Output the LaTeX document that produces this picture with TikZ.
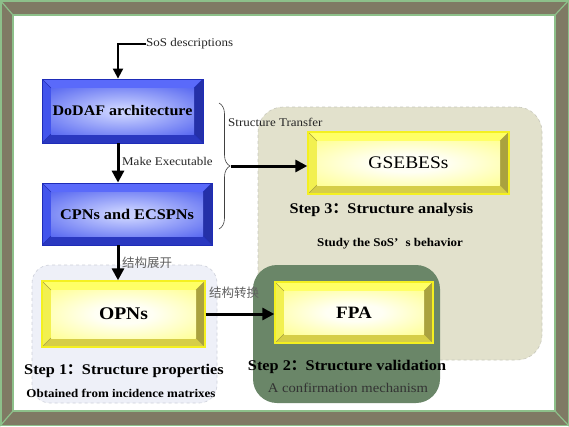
\documentclass[tikz,border=0pt]{standalone}
\usepackage{fontspec}
\setmainfont{Liberation Serif}[FakeStretch=1.1]
\newfontfamily\cjk{Noto Sans CJK SC}
\usetikzlibrary{arrows.meta,decorations.pathreplacing,calc}
\definecolor{frameol}{HTML}{7F7A64}
\definecolor{framegr}{HTML}{8DC08A}
\definecolor{blueline}{HTML}{1E2CB8}
\definecolor{bluetop}{HTML}{5A6AFA}
\definecolor{blueleft}{HTML}{4254EC}
\definecolor{blueright}{HTML}{2430A8}
\definecolor{bluebot}{HTML}{2A38C0}
\definecolor{bluein}{HTML}{C8D0FF}
\definecolor{blueout}{HTML}{4254EE}
\definecolor{yelline}{HTML}{F4F020}
\definecolor{yeltop}{HTML}{FFFF66}
\definecolor{yelleft}{HTML}{F2F050}
\definecolor{yelright}{HTML}{AAA23E}
\definecolor{yelbot}{HTML}{D6CE48}
\definecolor{yelin}{HTML}{FFFFF4}
\definecolor{yelout}{HTML}{FFFF70}
\definecolor{reg1}{HTML}{EEF0F8}
\definecolor{reg1b}{HTML}{CDD0DA}
\definecolor{reg2}{HTML}{6A8668}
\definecolor{reg3}{HTML}{E2E1CC}
\definecolor{reg3b}{HTML}{C8C8BC}
\pgfdeclareradialshading{bluesh}{\pgfpoint{0bp}{0bp}}{color(0bp)=(bluein); color(4bp)=(bluein); color(42bp)=(blueout); color(50bp)=(blueout)}
\pgfdeclareradialshading{yelsh}{\pgfpoint{0bp}{0bp}}{color(0bp)=(yelin); color(10bp)=(yelin); color(46bp)=(yelout); color(50bp)=(yelout)}
\tikzset{
  bev/.style n args={6}{path picture={
    \path (path picture bounding box.north west) coordinate (bvNW)
          (path picture bounding box.north east) coordinate (bvNE)
          (path picture bounding box.south east) coordinate (bvSE)
          (path picture bounding box.south west) coordinate (bvSW);
    \path ($(bvNW)+(9pt,-9pt)$) coordinate (bvnw)
          ($(bvNE)+(-9pt,-9pt)$) coordinate (bvne)
          ($(bvSE)+(-9pt,9pt)$) coordinate (bvse)
          ($(bvSW)+(9pt,9pt)$) coordinate (bvsw);
    \fill[#1] (bvNW) -- (bvNE) -- (bvne) -- (bvnw) -- cycle;
    \fill[#2] (bvNW) -- (bvnw) -- (bvsw) -- (bvSW) -- cycle;
    \fill[#3] (bvNE) -- (bvSE) -- (bvse) -- (bvne) -- cycle;
    \fill[#4] (bvSW) -- (bvSE) -- (bvse) -- (bvsw) -- cycle;
    \shade[shading=#5] (bvnw) rectangle (bvse);
    \draw[#6, line width=0.4pt] (bvNW) -- (bvnw) (bvNE) -- (bvne) (bvSE) -- (bvse) (bvSW) -- (bvsw);
  }},
  bluebox/.style={rectangle, inner sep=0pt, draw=blueline, line width=0.8pt,
    bev={bluetop}{blueleft}{blueright}{bluebot}{bluesh}{blueline}},
  yelbox/.style={rectangle, inner sep=0pt, draw=yelline, line width=1.4pt,
    bev={yeltop}{yelleft}{yelright}{yelbot}{yelsh}{yelright}},
  lab/.style={font=\fontsize{11.8}{13}\selectfont, text=black!85, inner sep=0pt},
  cnlab/.style={font=\cjk\fontsize{12.5}{14}\selectfont, text=black!62, inner sep=0pt},
  stepT/.style={font=\bfseries\fontsize{14.8}{17}\selectfont, inner sep=0pt},
  stepS/.style={font=\bfseries\fontsize{11.8}{13}\selectfont, inner sep=0pt},
  arr/.style={line width=3pt, -{Triangle[length=12pt,width=12pt]}},
  arrs/.style={line width=2pt, -{Triangle[length=10pt,width=10pt]}},
}
\begin{document}
\begin{tikzpicture}[x=1pt,y=-1pt]
\useasboundingbox (0,0) rectangle (569,426);
% frame
\fill[frameol] (0,0) rectangle (569,426);
\fill[white] (13,15) rectangle (555,411);
\draw[framegr, line width=1.5pt] (0.75,0.75) rectangle (568.25,425.25);
\draw[framegr, line width=1.5pt] (13,15) rectangle (555,411);
\draw[framegr, line width=1.2pt] (0,0) -- (13,15) (569,0) -- (555,15) (569,426) -- (555,411) (0,426) -- (13,411);
% regions
\node[rectangle, rounded corners=25pt, fill=reg3, draw=reg3b, dashed, line width=0.6pt,
  minimum width=284, minimum height=253] (s3reg) at (400,233.5) {};
\node[rectangle, rounded corners=18pt, fill=reg1, draw=reg1b, dashed, line width=0.6pt,
  minimum width=185, minimum height=138] (s1reg) at (124.5,334) {};
\node[rectangle, rounded corners=24pt, fill=reg2, draw=none,
  minimum width=187, minimum height=138] (s2reg) at (346.5,334) {};
% boxes
\node[bluebox, minimum width=161, minimum height=64, font=\bfseries\fontsize{14.6}{17}\selectfont] (dodaf) at (122.5,111) {DoDAF architecture};
\node[bluebox, minimum width=170, minimum height=62, font=\bfseries\fontsize{14.8}{17}\selectfont] (cpns) at (127,214) {CPNs and ECSPNs};
\node[yelbox, minimum width=163, minimum height=66, font=\bfseries\fontsize{17.8}{20}\selectfont] (opns) at (123.5,314) {OPNs};
\node[yelbox, minimum width=158, minimum height=61, font=\bfseries\fontsize{17.3}{20}\selectfont] (fpa) at (354,312.5) {FPA};
\node[yelbox, minimum width=201, minimum height=62, font=\fontsize{17.7}{20}\selectfont] (gse) at (408.5,163) {GSEBESs};
% labels
\node[lab, anchor=west] (sos) at (146,44) {SoS descriptions};
\coordinate (c1) at (118,44);
\draw[arrs] (sos.west) -- (c1) -- (c1 |- dodaf.north);
\draw[arr] (dodaf.south -| c1) -- (cpns.north -| c1);
\node[lab, anchor=west] (mk) at (122,161) {Make Executable};
\draw[arr] (cpns.south -| c1) -- (opns.north -| c1);
\node[cnlab, anchor=west] (zk) at (122,263) {结构展开};
\draw[arr] (opns.east) -- (opns.east -| fpa.west);
\node[cnlab, anchor=west] (zh) at (209,293) {结构转换};
% brace
\coordinate (brt) at (219,103);
\coordinate (brb) at (219,229);
\draw[decorate, decoration={brace, amplitude=11pt}, line width=0.6pt, black!75] (brt) -- (brb);
\coordinate (brtip) at (231,166);
\draw[arr] (brtip) -- (brtip -| gse.west);
\node[lab, anchor=west] (st) at (228,122) {Structure Transfer};
% step texts
\node[stepT] (s1t) at (124,371) {Step 1{\cjk ：}Structure properties};
\node[stepS] (s1s) at (121,393) {Obtained from incidence matrixes};
\node[stepT] (s2t) at (347,367) {Step 2{\cjk ：}Structure validation};
\node[font=\fontsize{13.3}{15}\selectfont, text=black!80, inner sep=0pt] (s2s) at (348,388) {A confirmation mechanism};
\node[stepT] (s3t) at (381.5,210) {Step 3{\cjk ：}Structure analysis};
\node[stepS] (s3s) at (390,244) {Study the SoS’\hspace{0.6em}s behavior};
\end{tikzpicture}
\end{document}
